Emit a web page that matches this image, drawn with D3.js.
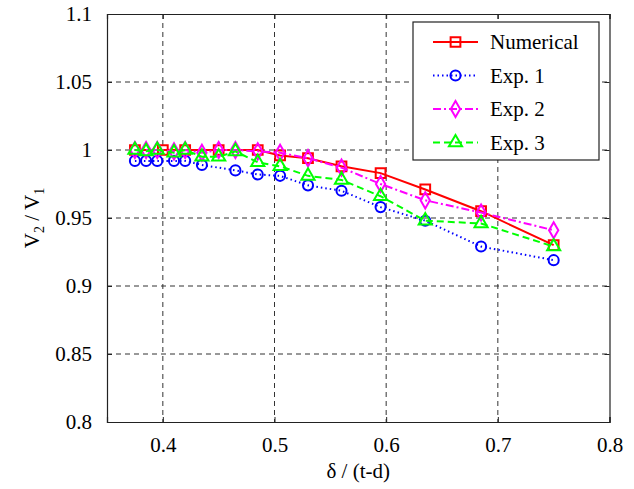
<!DOCTYPE html>
<html>
<head>
<meta charset="utf-8">
<script src="https://cdn.jsdelivr.net/npm/d3@7"></script>
<style>
  body { margin: 0; background: #fff; }
  svg text { font-family: "Liberation Serif", "Times New Roman", Times, serif !important; fill: #000; }
</style>
</head>
<body>
<div id="wrapper"></div>
<script>
// chart data
const numX = [0.375, 0.4, 0.42, 0.45, 0.485, 0.505, 0.53, 0.56, 0.595, 0.635, 0.685, 0.75];
const numY = [1.0, 1.0, 1.0, 1.0, 1.0, 0.996, 0.994, 0.988, 0.983, 0.971, 0.955, 0.930];

const exp1X = [0.375, 0.385, 0.395, 0.41, 0.42, 0.435, 0.465, 0.485, 0.505, 0.53, 0.56, 0.595, 0.635, 0.685, 0.75];
const exp1Y = [0.992, 0.992, 0.992, 0.992, 0.992, 0.989, 0.985, 0.982, 0.981, 0.974, 0.970, 0.958, 0.948, 0.929, 0.919];

const exp2X = [0.375, 0.385, 0.395, 0.41, 0.42, 0.435, 0.45, 0.465, 0.485, 0.505, 0.53, 0.56, 0.595, 0.635, 0.685, 0.75];
const exp2Y = [1.0, 1.0, 1.0, 0.999, 1.0, 0.998, 1.0, 1.0, 0.999, 0.998, 0.994, 0.987, 0.975, 0.963, 0.954, 0.941];

const exp3X = [0.375, 0.385, 0.395, 0.41, 0.42, 0.435, 0.45, 0.465, 0.485, 0.505, 0.53, 0.56, 0.595, 0.635, 0.685, 0.75];
const exp3Y = [1.0, 0.999, 1.0, 0.998, 1.0, 0.995, 0.995, 0.999, 0.991, 0.988, 0.981, 0.978, 0.966, 0.948, 0.946, 0.929];

const xTicks = [0.4, 0.5, 0.6, 0.7, 0.8];
const yTicks = [0.8, 0.85, 0.9, 0.95, 1, 1.05, 1.1];

const seriesNames = ['Numerical', 'Exp. 1', 'Exp. 2', 'Exp. 3'];

const dimensions = {
	width: 634,
	height: 489,
	margin: { top: 14, right: 24.5, bottom: 67, left: 107 }
};
dimensions.boundedWidth = dimensions.width - dimensions.margin.left - dimensions.margin.right;
dimensions.boundedHeight = dimensions.height - dimensions.margin.top - dimensions.margin.bottom;

const serif = '"Liberation Serif", "Times New Roman", serif';

function drawChart() {
	const series = [
		{ name: seriesNames[0], xs: numX, ys: numY, color: '#ff0000', dash: null, marker: 'square' },
		{ name: seriesNames[1], xs: exp1X, ys: exp1Y, color: '#0000ff', dash: '1.5,3', marker: 'circle' },
		{ name: seriesNames[2], xs: exp2X, ys: exp2Y, color: '#ff00ff', dash: '8,3,2,3', marker: 'diamond' },
		{ name: seriesNames[3], xs: exp3X, ys: exp3Y, color: '#00ff00', dash: '7,4', marker: 'triangle' }
	];

	const x = d3.scaleLinear().domain([0.35, 0.8]).range([0, dimensions.boundedWidth]);
	const y = d3.scaleLinear().domain([0.8, 1.1]).range([dimensions.boundedHeight, 0]);

	const svg = d3.select('#wrapper').append('svg')
		.attr('width', dimensions.width)
		.attr('height', dimensions.height)
		.attr('font-family', serif);

	const bounds = svg.append('g')
		.attr('transform', `translate(${dimensions.margin.left}, ${dimensions.margin.top})`);

	// grid
	bounds.append('g').selectAll('line').data(xTicks.slice(0, -1)).join('line')
		.attr('x1', (d) => x(d)).attr('x2', (d) => x(d))
		.attr('y1', 0).attr('y2', dimensions.boundedHeight)
		.attr('stroke', '#333').attr('stroke-width', 1).attr('stroke-dasharray', '5,4');
	bounds.append('g').selectAll('line').data(yTicks.slice(1, -1)).join('line')
		.attr('x1', 0).attr('x2', dimensions.boundedWidth)
		.attr('y1', (d) => y(d)).attr('y2', (d) => y(d))
		.attr('stroke', '#333').attr('stroke-width', 1).attr('stroke-dasharray', '5,4');

	// axes
	const xAxis = bounds.append('g')
		.attr('transform', `translate(0, ${dimensions.boundedHeight})`)
		.call(d3.axisBottom(x).tickValues(xTicks).tickSize(-5).tickPadding(15).tickFormat(d3.format('')));
	const yAxis = bounds.append('g')
		.call(d3.axisLeft(y).tickValues(yTicks).tickSize(-5).tickPadding(15).tickFormat(d3.format('')));
	bounds.append('g')
		.call(d3.axisTop(x).tickValues(xTicks).tickSize(-5).tickFormat(''));
	bounds.append('g')
		.attr('transform', `translate(${dimensions.boundedWidth}, 0)`)
		.call(d3.axisRight(y).tickValues(yTicks).tickSize(-5).tickFormat(''));

	bounds.selectAll('.domain').attr('stroke', '#222').attr('stroke-width', 1.2);
	bounds.selectAll('.tick line').attr('stroke', '#222');
	bounds.selectAll('g').attr('font-family', serif).attr('font-size', 21);
	[xAxis, yAxis].forEach((a) => a.selectAll('text')
		.style('font-family', serif)
		.style('font-size', '21px')
		.attr('fill', '#000'));

	// axis titles
	svg.append('text')
		.attr('x', dimensions.margin.left + dimensions.boundedWidth / 2)
		.attr('y', 478)
		.attr('text-anchor', 'middle')
		.style('font-size', '21px')
		.text('δ / (t-d)');

	const yTitle = svg.append('text')
		.attr('transform', `translate(39, ${dimensions.margin.top + dimensions.boundedHeight / 2}) rotate(-90)`)
		.attr('text-anchor', 'middle')
		.style('font-size', '21px');
	yTitle.append('tspan').text('V');
	yTitle.append('tspan').attr('dy', 5).style('font-size', '14px').text('2');
	yTitle.append('tspan').attr('dy', -5).text(' / V');
	yTitle.append('tspan').attr('dy', 5).style('font-size', '14px').text('1');

	const symbols = {
		square: d3.symbolSquare,
		circle: d3.symbolCircle,
		diamond: d3.symbolDiamond,
		triangle: d3.symbolTriangle
	};
	const sizes = { square: 95, circle: 80, diamond: 75, triangle: 75 };

	const line = d3.line().x((d) => x(d[0])).y((d) => y(d[1]));

	series.forEach((s) => {
		const pts = s.xs.map((v, i) => [v, s.ys[i]]);
		bounds.append('path')
			.datum(pts)
			.attr('d', line)
			.attr('fill', 'none')
			.attr('stroke', s.color)
			.attr('stroke-width', 2)
			.attr('stroke-dasharray', s.dash);
		bounds.append('g').selectAll('path').data(pts).join('path')
			.attr('transform', (d) => `translate(${x(d[0])}, ${y(d[1])})`)
			.attr('d', d3.symbol().type(symbols[s.marker]).size(sizes[s.marker]))
			.attr('fill', 'none')
			.attr('stroke', s.color)
			.attr('stroke-width', 2);
	});

	// legend (box at 413..599, 22..160 in page pixels)
	const legend = bounds.append('g')
		.attr('transform', `translate(${413 - dimensions.margin.left}, ${22 - dimensions.margin.top})`);
	legend.append('rect')
		.attr('width', 186).attr('height', 138)
		.attr('fill', '#fff').attr('stroke', '#222').attr('stroke-width', 1.2);
	series.forEach((s, i) => {
		const row = legend.append('g').attr('transform', `translate(0, ${20 + i * 33.5})`);
		row.append('line')
			.attr('x1', 20).attr('x2', 65).attr('y1', 0).attr('y2', 0)
			.attr('stroke', s.color).attr('stroke-width', 2)
			.attr('stroke-dasharray', s.dash);
		row.append('path')
			.attr('transform', 'translate(42.5, 0)')
			.attr('d', d3.symbol().type(symbols[s.marker]).size(sizes[s.marker]))
			.attr('fill', 'none').attr('stroke', s.color).attr('stroke-width', 2);
		row.append('text')
			.attr('x', 77).attr('y', 7)
			.style('font-size', '21px')
			.text(s.name);
	});
}
drawChart();
</script>
</body>
</html>
